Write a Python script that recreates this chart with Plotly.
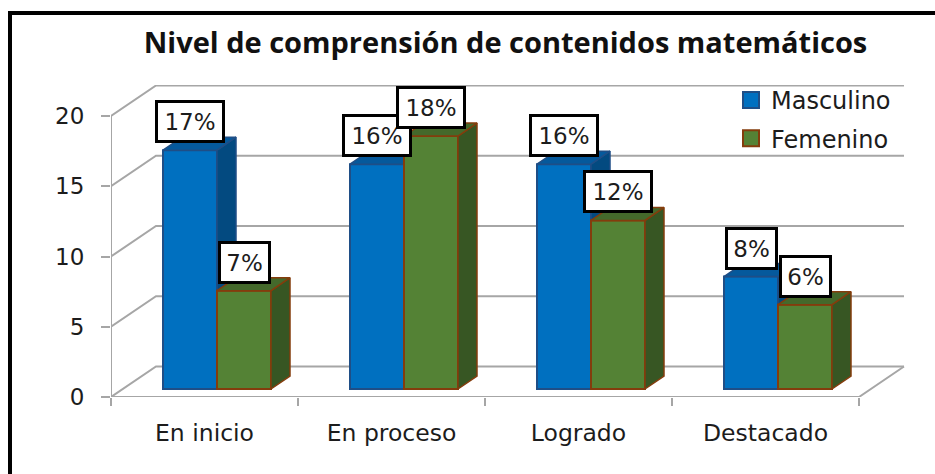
import plotly.graph_objects as go

# ---- data ----
categories = ["En inicio", "En proceso", "Logrado", "Destacado"]
masculino = [17, 16, 16, 8]
femenino = [7, 18, 12, 6]
y_ticks = [0, 5, 10, 15, 20]
title_text = "Nivel de comprensión de contenidos matemáticos"

# ---- geometry (pixels -> axis units) ----
W, H = 935, 474
L, R, T, B = 111, 30, 85, 77
PX_X = 187.0   # px per category
PX_Y = 14.05   # px per value unit
x_max = (W - L - R) / PX_X
y_max = (H - T - B) / PX_Y
n = len(categories)

wall_dx, wall_dy = 45 / PX_X, 30.5 / PX_Y
shift_x, shift_y = 12.5 / PX_X, 8 / PX_Y
depth_x, depth_y = 19 / PX_X, 13 / PX_Y
bar_w = 54 / PX_X

GRID = "#A6A6A6"
FONT = "DejaVu Sans"
TITLE_FONT = "Open Sans"
INK = "#1c1c1c"


def px(x):
    return (x - L) / (W - L - R)


def py(y):
    return 1 - (y - T) / (H - T - B)


def solid_bar(name, vals, offset, fill, edge, top, side, axis):
    xa, ya = ("x" + axis), ("y" + axis)
    xs = [i + 0.5 + shift_x + offset * bar_w for i in range(n)]
    traces = [go.Bar(name=name, x=xs, y=vals, base=[shift_y] * n, width=bar_w,
                     xaxis=xa, yaxis=ya, showlegend=False,
                     marker=dict(color=fill, line=dict(color=edge, width=2)),
                     hoverinfo="skip")]
    for x, v in zip(xs, vals):
        xl, xr = x - bar_w / 2, x + bar_w / 2
        yb, yt = shift_y, shift_y + v
        traces.append(go.Scatter(
            x=[xr, xr + depth_x, xr + depth_x, xr, xr],
            y=[yb, yb + depth_y, yt + depth_y, yt, yb],
            mode="lines", fill="toself", fillcolor=side,
            line=dict(color=edge, width=1.5), xaxis=xa, yaxis=ya,
            showlegend=False, hoverinfo="skip"))
        traces.append(go.Scatter(
            x=[xl, xr, xr + depth_x, xl + depth_x, xl],
            y=[yt, yt, yt + depth_y, yt + depth_y, yt],
            mode="lines", fill="toself", fillcolor=top,
            line=dict(color=edge, width=1.5), xaxis=xa, yaxis=ya,
            showlegend=False, hoverinfo="skip"))
    # legend key with the larger square swatch of the reference
    traces.append(go.Scatter(
        name=name, x=[None], y=[None], mode="markers", xaxis=xa, yaxis=ya,
        legendgroup=name, showlegend=True, hoverinfo="skip",
        marker=dict(symbol="square", size=16, color=fill, line=dict(color=edge, width=2))))
    return traces, xs


fig = go.Figure()

# walls and floor wireframe
wx, wy = [], []
for v in y_ticks:
    wx += [0, wall_dx, n + wall_dx, None]
    wy += [v, v + wall_dy, v + wall_dy, None]
wx += [0, 0, None, 0, n, n + wall_dx, None]
wy += [y_ticks[0], y_ticks[-1], None, 0, 0, wall_dy, None]
fig.add_trace(go.Scatter(x=wx, y=wy, mode="lines", showlegend=False, hoverinfo="skip",
                         cliponaxis=False, line=dict(color=GRID, width=2)))

m_tr, m_x = solid_bar("Masculino", masculino, -0.5, "#0070C0", "#1F4E86", "#05599C", "#034A80", "2")
f_tr, f_x = solid_bar("Femenino", femenino, 0.5, "#548235", "#843C0C", "#44692B", "#375623", "3")
fig.add_traces(m_tr)
fig.add_traces(f_tr)

# data labels
for xs, vals in ((m_x, masculino), (f_x, femenino)):
    for x, v in zip(xs, vals):
        label = f"{v}%"
        fig.add_annotation(x=x, y=v + shift_y, xref="x", yref="y", text=label,
                           showarrow=False, yanchor="bottom", yshift=7,
                           width=58 if len(label) == 3 else 41, height=31,
                           font=dict(family=FONT, size=23, color=INK),
                           bgcolor="white", bordercolor="black", borderwidth=3, borderpad=3)

fig.update_layout(
    width=W, height=H, autosize=False,
    margin=dict(l=L, r=R, t=T, b=B, pad=0),
    paper_bgcolor="white", plot_bgcolor="white",
    barmode="overlay",
    font=dict(family=FONT, color=INK),
    title=dict(text=f"<b>{title_text}</b>", x=505.5 / W, xanchor="center", xref="container",
               y=1 - 43 / H, yanchor="middle", yref="container",
               font=dict(family=TITLE_FONT, size=29, color="#111111")),
    xaxis=dict(range=[0, x_max], showgrid=False, zeroline=False, showline=False,
               tickmode="array", tickvals=[i + 0.5 for i in range(n)], ticktext=categories,
               ticks="", tickfont=dict(family=FONT, size=23.5, color=INK), ticklabelstandoff=19,
               minor=dict(tickmode="array", tickvals=list(range(n + 1)), ticks="outside",
                          ticklen=8, tickcolor=GRID, tickwidth=1.5)),
    yaxis=dict(range=[0, y_max], showgrid=False, zeroline=False, showline=False,
               tickmode="array", tickvals=y_ticks, ticks="outside", ticklen=9,
               tickcolor=GRID, tickwidth=1.5, ticklabelstandoff=12,
               tickfont=dict(family=FONT, size=23, color=INK)),
    xaxis2=dict(range=[0, x_max], overlaying="x", visible=False),
    yaxis2=dict(range=[0, y_max], overlaying="y", visible=False),
    xaxis3=dict(range=[0, x_max], overlaying="x", visible=False),
    yaxis3=dict(range=[0, y_max], overlaying="y", visible=False),
    legend=dict(x=px(731), y=py(78), xanchor="left", yanchor="top", bgcolor="rgba(0,0,0,0)",
                font=dict(family=FONT, size=24, color=INK), tracegroupgap=4, itemwidth=30,
                itemsizing="trace", traceorder="grouped"),
    shapes=[
        dict(type="line", xref="paper", yref="paper", x0=px(10), x1=px(10), y0=py(11), y1=py(480),
             line=dict(color="black", width=4)),
        dict(type="line", xref="paper", yref="paper", x0=px(8), x1=px(940), y0=py(13), y1=py(13),
             line=dict(color="black", width=4)),
    ],
)

fig.write_html("out.html", config={"displayModeBar": False},
               post_script="document.body.style.margin='0';document.body.style.overflow='hidden';")
